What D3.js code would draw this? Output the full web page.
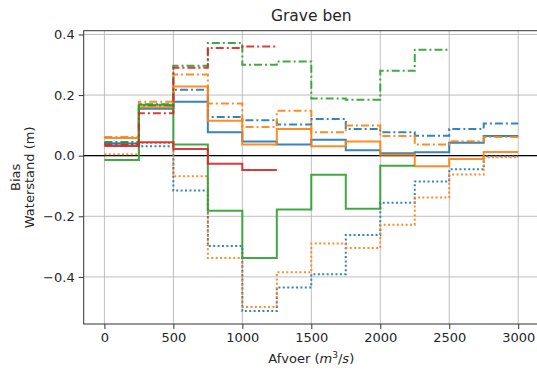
<!DOCTYPE html>
<html><head><meta charset="utf-8">
<script src="https://cdn.jsdelivr.net/npm/d3@7"></script>
<style>
body{margin:0;background:#fff;}
text{font-family:"DejaVu Sans",sans-serif;fill:#262626;}
</style></head><body>
<svg id="c" width="537" height="372"></svg>
<script>
// bin starts (m3/s), bin width 250
const binStarts = [0,250,500,750,1000,1250,1500,1750,2000,2250,2500,2750];
const binWidth = 250;
const xTicks = [0,500,1000,1500,2000,2500,3000];
const yTicks = [0.4,0.2,0.0,-0.2,-0.4];

const blueSolid   = [0.040,0.155,0.178,0.077,0.047,0.037,0.053,0.018,0.008,0.011,0.043,0.065];
const blueDashDot = [0.045,0.165,0.218,0.128,0.117,0.103,0.121,0.088,0.077,0.066,0.088,0.106];
const blueDotted  = [0.040,0.031,-0.115,-0.298,-0.513,-0.435,-0.391,-0.262,-0.155,-0.085,-0.045,-0.002];
const orangeSolid   = [0.058,0.160,0.228,0.115,0.037,0.088,0.031,0.047,0.003,-0.035,-0.011,0.012];
const orangeDashDot = [0.062,0.178,0.268,0.172,0.095,0.148,0.077,0.100,0.065,0.037,0.048,0.062];
const orangeDotted  = [0.005,0.042,-0.068,-0.338,-0.499,-0.385,-0.290,-0.305,-0.228,-0.138,-0.062,-0.005];
const greenSolid   = [-0.014,0.168,0.037,-0.182,-0.338,-0.178,-0.063,-0.175,-0.033];
const greenDashDot = [0.040,0.170,0.297,0.372,0.300,0.311,0.189,0.185,0.280,0.350];
const redSolid   = [0.032,0.044,0.022,-0.027,-0.047];
const redDashDot = [0.036,0.140,0.290,0.355,0.360];

const series = [
  {v:blueSolid, c:"#1f77b4", s:"solid"},
  {v:blueDashDot, c:"#1f77b4", s:"dashdot"},
  {v:blueDotted, c:"#1f77b4", s:"dotted"},
  {v:orangeSolid, c:"#ff7f0e", s:"solid"},
  {v:orangeDashDot, c:"#ff7f0e", s:"dashdot"},
  {v:orangeDotted, c:"#ff7f0e", s:"dotted"},
  {v:greenSolid, c:"#2ca02c", s:"solid"},
  {v:greenDashDot, c:"#2ca02c", s:"dashdot"},
  {v:redSolid, c:"#d62728", s:"solid"},
  {v:redDashDot, c:"#d62728", s:"dashdot"}
];
const dash = {solid:null, dashdot:"8,3,2,3", dotted:"2,2.4"};

const L=83.7, R=538.9, T=30.7, B=324;
const x = d3.scaleLinear().domain([-150,3150]).range([L,R]);
const y = d3.scaleLinear().domain([-0.5555,0.4125]).range([B,T]);
const svg = d3.select("#c");

// grid
svg.append("g").selectAll("line").data(xTicks).join("line")
  .attr("x1",d=>x(d)).attr("x2",d=>x(d)).attr("y1",T).attr("y2",B)
  .attr("stroke","#b0b0b0").attr("stroke-width",1).attr("opacity",0.8);
svg.append("g").selectAll("line").data(yTicks).join("line")
  .attr("x1",L).attr("x2",R).attr("y1",d=>y(d)).attr("y2",d=>y(d))
  .attr("stroke","#b0b0b0").attr("stroke-width",1).attr("opacity",0.8);

// zero line
svg.append("line").attr("x1",L).attr("x2",R).attr("y1",y(0)).attr("y2",y(0))
  .attr("stroke","#000").attr("stroke-width",1.2);

// steps
const line = d3.line().x(d=>x(d[0])).y(d=>y(d[1])).curve(d3.curveStepAfter);
series.forEach(s=>{
  const pts = s.v.map((v,i)=>[binStarts[i],v]);
  pts.push([binStarts[s.v.length-1]+binWidth, s.v[s.v.length-1]]);
  svg.append("path").datum(pts).attr("d",line)
    .attr("fill","none").attr("stroke",s.c).attr("stroke-width",2)
    .attr("stroke-dasharray",dash[s.s]).attr("stroke-linejoin","miter")
    .attr("opacity",0.9);
});

// axes
const xa = svg.append("g").attr("transform",`translate(0,${B})`)
  .call(d3.axisBottom(x).tickValues(xTicks).tickFormat(d3.format("d")).tickSize(5).tickPadding(4));
const ya = svg.append("g").attr("transform",`translate(${L},0)`)
  .call(d3.axisLeft(y).tickValues(yTicks).tickFormat(d3.format(".1f")).tickSize(5).tickPadding(4));
[xa,ya].forEach(a=>{
  a.select(".domain").remove();
  a.selectAll("text").attr("font-size",13).style("font-family","DejaVu Sans").attr("fill","#262626");
  a.selectAll("line").attr("stroke","#333");
});
ya.selectAll("text").text(d=>d3.format(".1f")(d).replace("-","\u2212"));

// frame
svg.append("rect").attr("x",L).attr("y",T).attr("width",R-L).attr("height",B-T)
  .attr("fill","none").attr("stroke","#333").attr("stroke-width",1);

// title
svg.append("text").attr("x",(L+R)/2).attr("y",21).attr("text-anchor","middle")
  .attr("font-size",15.5).text("Grave ben");

// x label
const xl = svg.append("text").attr("x",(L+R)/2).attr("y",363).attr("text-anchor","middle").attr("font-size",13);
xl.append("tspan").text("Afvoer (");
xl.append("tspan").attr("font-style","italic").text("m");
xl.append("tspan").attr("font-size",9).attr("dy",-5).text("3");
xl.append("tspan").attr("dy",5).text("/");
xl.append("tspan").attr("font-style","italic").text("s");
xl.append("tspan").text(")");

// y label
const cy = (T+B)/2;
svg.append("text").attr("transform",`translate(20,${cy}) rotate(-90)`).attr("text-anchor","middle")
  .attr("font-size",13).text("Bias");
svg.append("text").attr("transform",`translate(34,${cy}) rotate(-90)`).attr("text-anchor","middle")
  .attr("font-size",13).text("Waterstand (m)");
</script>
</body></html>
